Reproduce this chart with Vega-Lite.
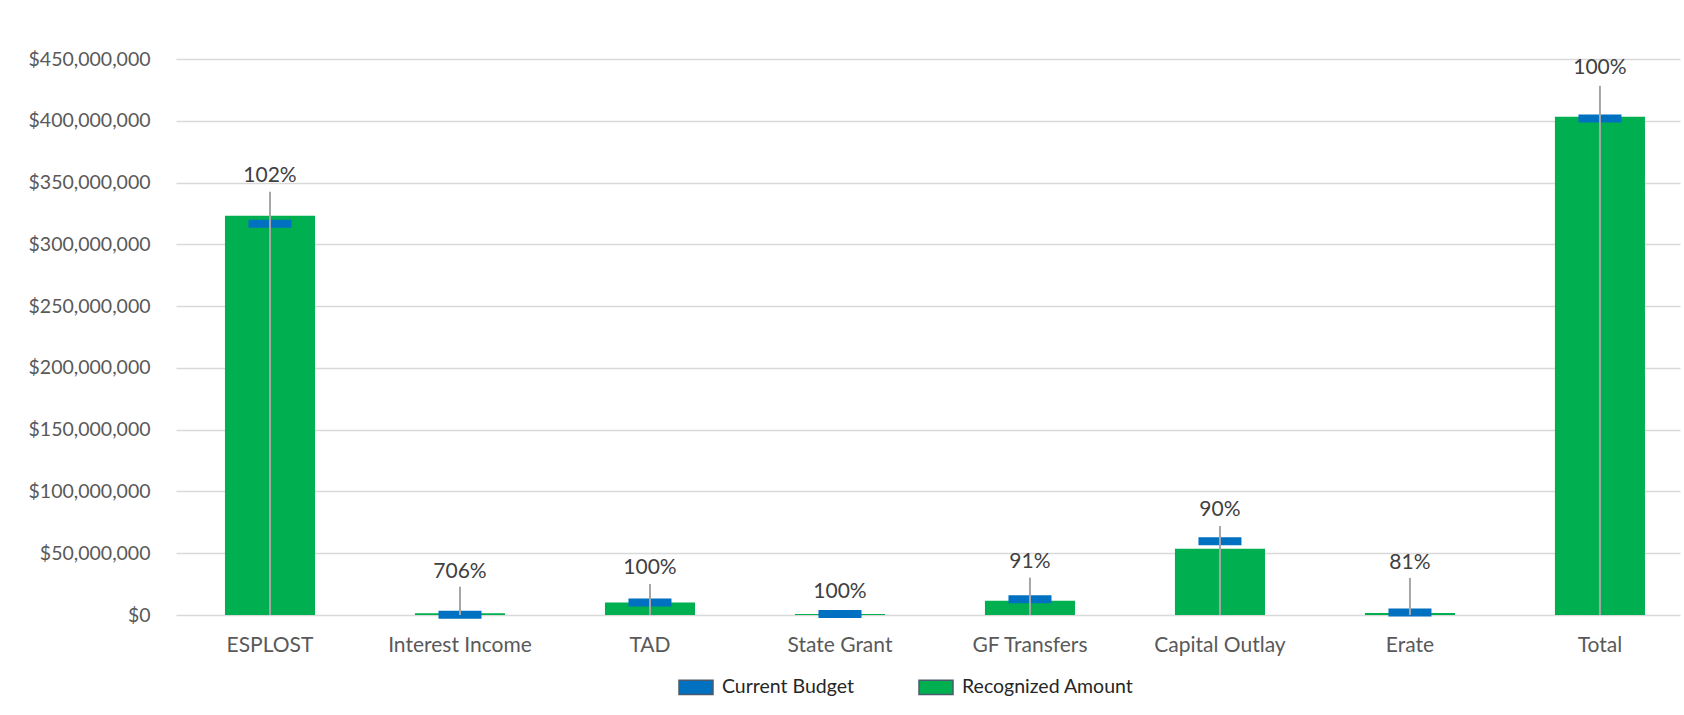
{
  "$schema": "https://vega.github.io/schema/vega-lite/v6.json",
  "width": 1504,
  "height": 556,
  "autosize": {"type": "none"},
  "padding": {"left": 176, "top": 59, "right": 4, "bottom": 100},
  "background": "white",
  "config": {
    "view": {"stroke": null},
    "font": "Lato",
    "axis": {"labelFont": "Lato", "labelColor": "#595959"},
    "legend": {"labelFont": "Lato"}
  },
  "data": {
    "values": [
      {"category": "ESPLOST", "recognized": 323200000, "budget": 316700000, "leader": 342500000, "labelAt": 355500000, "pct": "102%"},
      {"category": "Interest Income", "recognized": 1500000, "budget": 212000, "leader": 22900000, "labelAt": 35000000, "pct": "706%"},
      {"category": "TAD", "recognized": 10100000, "budget": 10100000, "leader": 25100000, "labelAt": 37800000, "pct": "100%"},
      {"category": "State Grant", "recognized": 900000, "budget": 900000, "leader": null, "labelAt": 18900000, "pct": "100%"},
      {"category": "GF Transfers", "recognized": 11600000, "budget": 12800000, "leader": 30200000, "labelAt": 43200000, "pct": "91%"},
      {"category": "Capital Outlay", "recognized": 53700000, "budget": 59700000, "leader": 72000000, "labelAt": 85000000, "pct": "90%"},
      {"category": "Erate", "recognized": 1600000, "budget": 2000000, "leader": 30000000, "labelAt": 42000000, "pct": "81%"},
      {"category": "Total", "recognized": 403200000, "budget": 401800000, "leader": 428400000, "labelAt": 442500000, "pct": "100%"}
    ]
  },
  "encoding": {
    "x": {
      "field": "category",
      "type": "nominal",
      "sort": null,
      "scale": {"paddingInner": 0.526, "paddingOuter": 0.221, "align": 0.583},
      "axis": {
        "title": null,
        "labelAngle": 0,
        "domain": false,
        "ticks": false,
        "labelFontSize": 21,
        "labelPadding": 19,
        "labelColor": "#595959"
      }
    }
  },
  "layer": [
    {
      "mark": {"type": "bar", "opacity": 1},
      "encoding": {
        "y": {
          "field": "recognized",
          "type": "quantitative",
          "scale": {"domain": [0, 450000000], "nice": false},
          "axis": {
            "title": null,
            "values": [0, 50000000, 100000000, 150000000, 200000000, 250000000, 300000000, 350000000, 400000000, 450000000],
            "format": "$,.0f",
            "domain": false,
            "ticks": false,
            "grid": true,
            "gridColor": "#D9D9D9",
            "gridWidth": 1.5,
            "labelFontSize": 19.5,
            "labelPadding": 26,
            "labelColor": "#595959"
          }
        },
        "color": {
          "datum": "Recognized Amount",
          "type": "nominal",
          "scale": {"domain": ["Current Budget", "Recognized Amount"], "range": ["#0070C0", "#00B050"]},
          "legend": {
            "title": null,
            "orient": "none",
            "direction": "horizontal",
            "legendX": 502,
            "legendY": 610,
            "symbolType": "M-1,-0.42H1V0.42H-1Z",
            "symbolSize": 1156,
            "symbolOpacity": 1,
            "symbolStrokeColor": "#4a5a6a",
            "symbolStrokeWidth": 1.5,
            "labelFontSize": 19.5,
            "labelLimit": 400,
            "labelColor": "#262626",
            "labelOffset": 8,
            "columnPadding": 62
          }
        }
      }
    },
    {
      "mark": {"type": "tick", "size": 43, "thickness": 8, "opacity": 1},
      "encoding": {
        "y": {"field": "budget", "type": "quantitative"},
        "color": {"datum": "Current Budget", "type": "nominal"}
      }
    },
    {
      "transform": [{"filter": "datum.leader != null"}],
      "mark": {"type": "rule", "color": "#A6A6A6", "strokeWidth": 2},
      "encoding": {
        "y": {"field": "leader", "type": "quantitative"},
        "y2": {"datum": 0}
      }
    },
    {
      "mark": {"type": "text", "fontSize": 21, "color": "#404040", "baseline": "middle", "align": "center"},
      "encoding": {
        "y": {"field": "labelAt", "type": "quantitative"},
        "text": {"field": "pct"}
      }
    }
  ]
}
